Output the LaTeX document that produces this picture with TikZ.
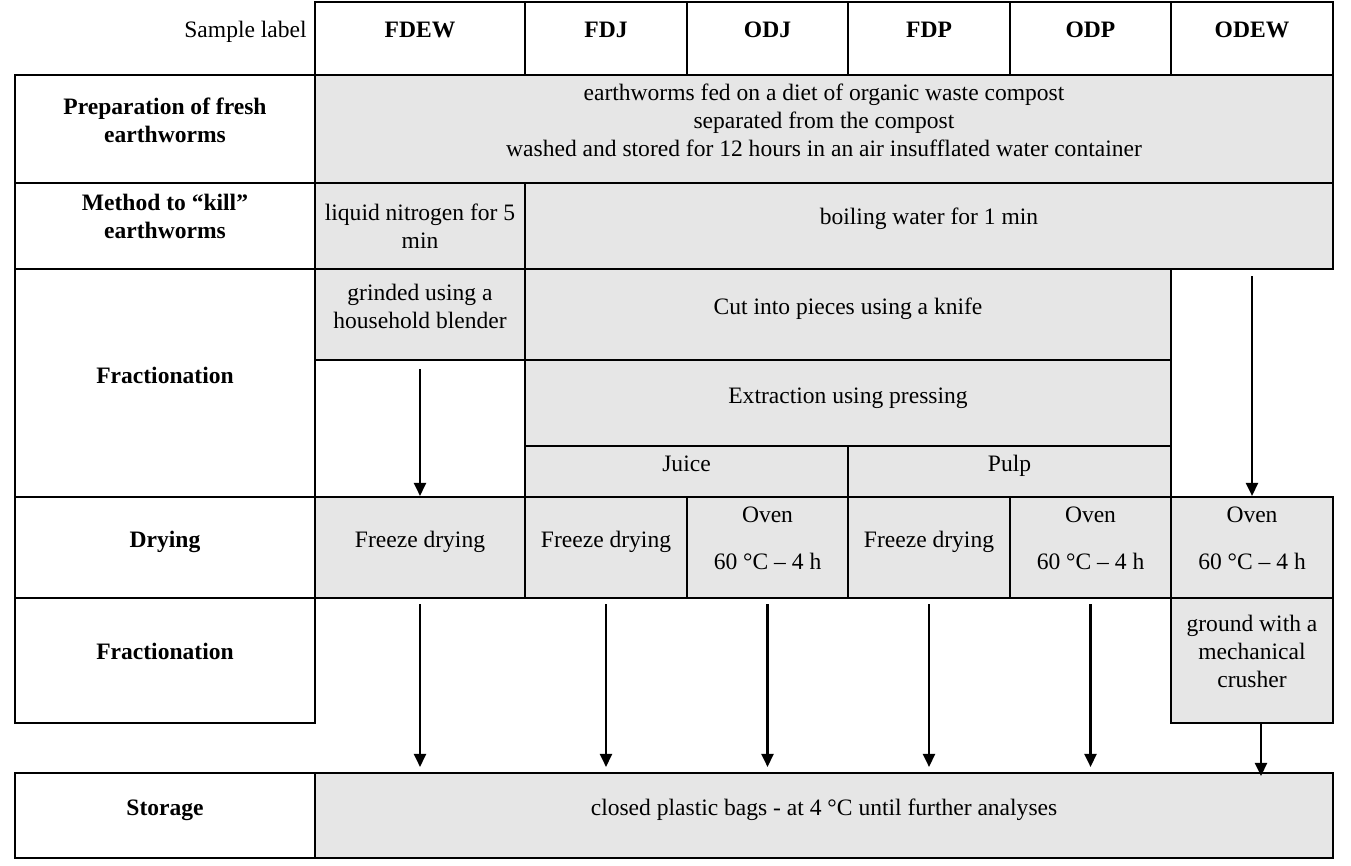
\documentclass[tikz,border=0pt]{standalone}
\usepackage{fontspec}
\setmainfont{Liberation Serif}
\usetikzlibrary{fit,arrows.meta}
\definecolor{cellgray}{HTML}{E6E6E6}

\begin{document}
\begin{tikzpicture}[x=0.02cm,y=-0.02cm,
  font=\fontsize{13.4}{15.9}\selectfont,
  box/.style={draw, line width=1.2pt, inner sep=0pt},
  shaded/.style={box, fill=cellgray},
  plain/.style={box, fill=white},
  txt/.style={align=center, inner sep=0pt},
  oneline/.style={txt, text height=0.7em, text depth=0.2em, yshift=-0.08cm},
  head/.style={txt, font=\fontsize{13.4}{15.9}\selectfont\bfseries},
  arr/.style={-{Triangle[length=0.26cm,width=0.24cm]}, line width=1.3pt}]
\useasboundingbox (0,0) rectangle (1351,865);

% header row
\node[oneline, anchor=east] (samplelbl) at (307,29) {Sample label};
\node[plain, fit={(315,2) (525,75)}] (hA) {};
\node[plain, fit={(525,2) (687,75)}] (hB) {};
\node[plain, fit={(687,2) (848,75)}] (hC) {};
\node[plain, fit={(848,2) (1010,75)}] (hD) {};
\node[plain, fit={(1010,2) (1171,75)}] (hE) {};
\node[plain, fit={(1171,2) (1333,75)}] (hF) {};
\node[head, oneline] (hA-t) at ([yshift=0.19cm]hA.center) {FDEW};
\node[head, oneline] (hB-t) at ([yshift=0.19cm]hB.center) {FDJ};
\node[head, oneline] (hC-t) at ([yshift=0.19cm]hC.center) {ODJ};
\node[head, oneline] (hD-t) at ([yshift=0.19cm]hD.center) {FDP};
\node[head, oneline] (hE-t) at ([yshift=0.19cm]hE.center) {ODP};
\node[head, oneline] (hF-t) at ([yshift=0.19cm]hF.center) {ODEW};

% preparation
\node[plain, fit={(15,75) (315,183)}] (prepL) {};
\node[head] (prepL-t) at ([yshift=0.18cm]prepL.center) {Preparation of fresh\\earthworms};
\node[shaded, fit={(315,75) (1333,183)}] (prep) {};
\node[txt] (prep-t) at ([yshift=0.18cm]prep.center) {earthworms fed on a diet of organic waste compost\\separated from the compost\\washed and stored for 12 hours in an air insufflated water container};

% method to kill
\node[plain, fit={(15,183) (315,269)}] (killL) {};
\node[head] (killL-t) at ([yshift=0.19cm]killL.center) {Method to ``kill''\\earthworms};
\node[shaded, fit={(315,183) (525,269)}] (nitro) {};
\node[txt] (nitro-t) at (nitro.center) {liquid nitrogen for 5\\min};
\node[shaded, fit={(525,183) (1333,269)}] (boil) {};
\node[oneline] (boil-t) at ([yshift=0.2cm]boil.center) {boiling water for 1 min};

% fractionation
\node[plain, fit={(15,269) (315,497)}] (fracL) {};
\node[head, oneline] (fracL-t) at ([yshift=0.16cm]fracL.center) {Fractionation};
\node[shaded, fit={(315,269) (525,360)}] (blend) {};
\node[txt] (blend-t) at ([yshift=0.17cm]blend.center) {grinded using a\\household blender};
\node[plain, fit={(315,360) (525,497)}] (emptyA) {};
\node[shaded, fit={(525,269) (1171,360)}] (cut) {};
\node[oneline] (cut-t) at ([yshift=0.17cm]cut.center) {Cut into pieces using a knife};
\node[shaded, fit={(525,360) (1171,446)}] (press) {};
\node[oneline] (press-t) at ([yshift=0.16cm]press.center) {Extraction using pressing};
\node[shaded, fit={(525,446) (848,497)}] (juice) {};
\node[oneline] (juice-t) at ([yshift=0.17cm]juice.center) {Juice};
\node[shaded, fit={(848,446) (1171,497)}] (pulp) {};
\node[oneline] (pulp-t) at ([yshift=0.17cm]pulp.center) {Pulp};

% drying
\node[plain, fit={(15,497) (315,598)}] (dryL) {};
\node[head, oneline] (dryL-t) at ([yshift=0.17cm]dryL.center) {Drying};
\node[shaded, fit={(315,497) (525,598)}] (dryA) {};
\node[shaded, fit={(525,497) (687,598)}] (dryB) {};
\node[shaded, fit={(687,497) (848,598)}] (dryC) {};
\node[shaded, fit={(848,497) (1010,598)}] (dryD) {};
\node[shaded, fit={(1010,497) (1171,598)}] (dryE) {};
\node[shaded, fit={(1171,497) (1333,598)}] (dryF) {};
\node[oneline] (dryA-t) at ([yshift=0.17cm]dryA.center) {Freeze drying};
\node[oneline] (dryB-t) at ([yshift=0.17cm]dryB.center) {Freeze drying};
\node[txt] (dryC-t) at ([yshift=0.18cm]dryC.center) {Oven\\[0.38cm]60 °C -- 4 h};
\node[oneline] (dryD-t) at ([yshift=0.17cm]dryD.center) {Freeze drying};
\node[txt] (dryE-t) at ([yshift=0.18cm]dryE.center) {Oven\\[0.38cm]60 °C -- 4 h};
\node[txt] (dryF-t) at ([yshift=0.18cm]dryF.center) {Oven\\[0.38cm]60 °C -- 4 h};

% second fractionation
\node[plain, fit={(15,598) (315,723)}] (frac2L) {};
\node[head, oneline] (frac2L-t) at ([yshift=0.19cm]frac2L.center) {Fractionation};
\node[shaded, fit={(1171,598) (1333,723)}] (crush) {};
\node[txt] (crush-t) at ([yshift=0.19cm]crush.center) {ground with a\\mechanical\\crusher};

% storage
\node[plain, fit={(15,773) (315,858)}] (storeL) {};
\node[head, oneline] (storeL-t) at ([yshift=0.17cm]storeL.center) {Storage};
\node[shaded, fit={(315,773) (1333,858)}] (store) {};
\node[oneline] (store-t) at ([yshift=0.17cm]store.center) {closed plastic bags - at 4 °C until further analyses};

% arrows
\draw[arr, shorten <=0.16cm] (blend.south) -- (dryA.north);
\draw[arr, shorten <=0.12cm] (dryF.north |- boil.south) -- (dryF.north);
\draw[arr, shorten <=0.1cm, shorten >=0.1cm] (dryA.south) -- (dryA.south |- store.north);
\draw[arr, shorten <=0.1cm, shorten >=0.1cm] (dryB.south) -- (dryB.south |- store.north);
\draw[arr, shorten <=0.1cm, shorten >=0.1cm] (dryC.south) -- (dryC.south |- store.north);
\draw[arr, shorten <=0.1cm, shorten >=0.1cm] (dryD.south) -- (dryD.south |- store.north);
\draw[arr, shorten <=0.1cm, shorten >=0.1cm] (dryE.south) -- (dryE.south |- store.north);
\coordinate (crushout) at ([xshift=0.18cm]crush.south);
\draw[arr, shorten >=-0.08cm] (crushout) -- (crushout |- store.north);
\end{tikzpicture}
\end{document}
